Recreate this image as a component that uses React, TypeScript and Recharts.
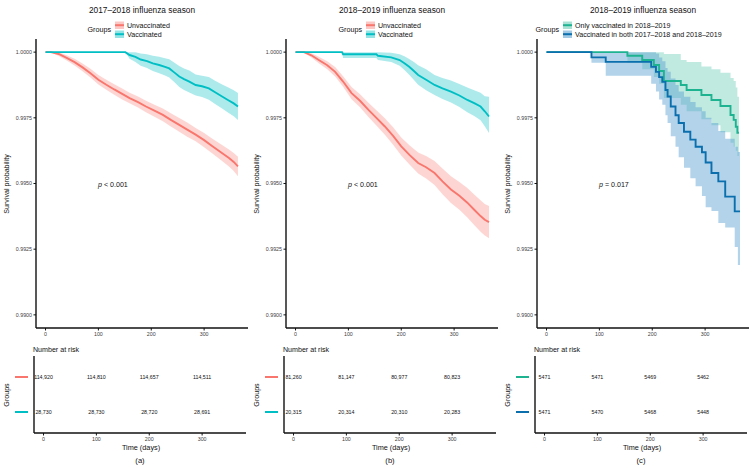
import type { ReactElement } from "react";
import { Area, ComposedChart, Line, Scatter, XAxis, YAxis } from "recharts";

const FONT = '"Liberation Sans", Arial, Helvetica, sans-serif';
const INK = "#111111";
const TICK_INK = "#404040";

const panelTitles = [
  "2017–2018 influenza season",
  "2018–2019 influenza season",
  "2018–2019 influenza season",
];
const panelLetters = ["(a)", "(b)", "(c)"];
const pTexts = ["< 0.001", "< 0.001", "= 0.017"];
const groupNames = [
  ["Unvaccinated", "Vaccinated"],
  ["Unvaccinated", "Vaccinated"],
  ["Only vaccinated in 2018–2019", "Vaccinated in both 2017–2018 and 2018–2019"],
];
const timeTicks = [0, 100, 200, 300];
const survTicks = [0.99, 0.9925, 0.995, 0.9975, 1];

// (a) 2017–2018, unvaccinated
const aUnvacT = [0, 10, 25, 40, 55, 70, 85, 100, 115, 130, 145, 159, 175, 190, 206, 222, 237, 253, 268, 284, 300, 315, 331, 347, 356, 364];
const aUnvacS = [1, 1, 0.99993, 0.99978, 0.99962, 0.99942, 0.9992, 0.99895, 0.99876, 0.99858, 0.99841, 0.99825, 0.9981, 0.99793, 0.99777, 0.99761, 0.99742, 0.99723, 0.99705, 0.99686, 0.99665, 0.99643, 0.9962, 0.99597, 0.99582, 0.99565];
const aUnvacHi = [1, 1, 1, 0.99988, 0.99975, 0.99957, 0.99937, 0.99913, 0.99895, 0.99878, 0.99862, 0.99845, 0.99831, 0.99815, 0.998, 0.99785, 0.99767, 0.99749, 0.99732, 0.99711, 0.99692, 0.99671, 0.9965, 0.99629, 0.99616, 0.99602];
const aUnvacLo = [1, 1, 0.99985, 0.99968, 0.99949, 0.99927, 0.99903, 0.99877, 0.99857, 0.99838, 0.9982, 0.99805, 0.99789, 0.99771, 0.99754, 0.99737, 0.99717, 0.99697, 0.99678, 0.99661, 0.99638, 0.99615, 0.9959, 0.99565, 0.99548, 0.99528];

// (a) 2017–2018, vaccinated
const aVacT = [0, 151, 159, 170, 180, 192, 203, 215, 226, 234, 244, 253, 262, 272, 284, 296, 309, 320, 334, 345, 356, 364];
const aVacS = [1, 1, 0.99989, 0.99982, 0.99972, 0.99966, 0.99957, 0.99951, 0.99944, 0.99938, 0.99922, 0.99907, 0.99897, 0.99888, 0.99875, 0.9987, 0.99862, 0.99848, 0.99831, 0.99818, 0.99805, 0.99793];
const aVacHi = [1, 1, 1, 1, 0.99995, 0.99992, 0.99986, 0.99982, 0.99977, 0.99973, 0.9996, 0.99947, 0.99938, 0.9993, 0.99915, 0.9991, 0.99905, 0.99892, 0.99877, 0.99866, 0.99855, 0.99844];
const aVacLo = [1, 1, 0.99975, 0.99962, 0.99948, 0.9994, 0.99928, 0.9992, 0.99911, 0.99903, 0.99885, 0.99867, 0.99856, 0.99846, 0.99835, 0.99829, 0.99819, 0.99804, 0.99785, 0.9977, 0.99756, 0.99742];

// (b) 2018–2019, unvaccinated
const bUnvacT = [0, 16, 30, 44, 60, 75, 90, 106, 122, 138, 153, 169, 185, 200, 216, 232, 247, 263, 278, 294, 310, 325, 338, 350, 358, 366];
const bUnvacS = [1, 1, 0.99988, 0.9997, 0.9995, 0.99925, 0.99888, 0.99844, 0.99815, 0.9978, 0.9975, 0.99717, 0.9968, 0.99641, 0.99608, 0.99578, 0.99562, 0.9954, 0.99508, 0.99477, 0.99453, 0.99427, 0.994, 0.99376, 0.99362, 0.99353];
const bUnvacHi = [1, 1, 0.99996, 0.99982, 0.99965, 0.99943, 0.99908, 0.99867, 0.9984, 0.99807, 0.99779, 0.99748, 0.99713, 0.99675, 0.99645, 0.99618, 0.99605, 0.99586, 0.99557, 0.99528, 0.99506, 0.99483, 0.99458, 0.99436, 0.99422, 0.99414];
const bUnvacLo = [1, 1, 0.9998, 0.99958, 0.99935, 0.99907, 0.99868, 0.99821, 0.9979, 0.99753, 0.99721, 0.99686, 0.99647, 0.99607, 0.99571, 0.99538, 0.99519, 0.99494, 0.99459, 0.99426, 0.994, 0.99371, 0.99342, 0.99316, 0.99302, 0.99292];

// (b) 2018–2019, vaccinated
const bVacT = [0, 88, 90, 153, 156, 181, 197, 206, 215, 224, 232, 247, 263, 278, 294, 310, 325, 338, 350, 358, 366];
const bVacS = [1, 1, 0.99992, 0.99992, 0.99986, 0.9998, 0.9997, 0.99958, 0.99944, 0.99928, 0.99913, 0.99895, 0.99875, 0.99862, 0.9985, 0.99835, 0.99818, 0.99806, 0.99793, 0.99775, 0.99755];
const bVacHi = [1, 1, 1, 1, 1, 0.99998, 0.99992, 0.99984, 0.99974, 0.99962, 0.9995, 0.99935, 0.99913, 0.99902, 0.99892, 0.99879, 0.99865, 0.99855, 0.99845, 0.99832, 0.9983];
const bVacLo = [1, 1, 0.99978, 0.99978, 0.9997, 0.99962, 0.99948, 0.99932, 0.99914, 0.99894, 0.99876, 0.99855, 0.99837, 0.99822, 0.99808, 0.99791, 0.99771, 0.99757, 0.99741, 0.99718, 0.99692];

// (c) only vaccinated in 2018–2019
const cOnlyT = [0, 153, 181, 203, 213, 222, 254, 265, 293, 312, 329, 348, 354, 358, 361, 364];
const cOnlyS = [1, 0.99986, 0.9997, 0.99951, 0.99928, 0.9989, 0.99875, 0.99856, 0.99837, 0.99818, 0.99795, 0.99761, 0.99742, 0.99716, 0.99693, 0.99693];
const cOnlyHi = [1, 1, 1, 1, 1, 0.99993, 0.9997, 0.99962, 0.99945, 0.99935, 0.99922, 0.99902, 0.9989, 0.99865, 0.9983, 0.9983];
const cOnlyLo = [1, 0.9996, 0.99935, 0.99905, 0.9988, 0.99825, 0.998, 0.99775, 0.99745, 0.99722, 0.99695, 0.99655, 0.9964, 0.99625, 0.99605, 0.99605];

// (c) vaccinated in both seasons
const cBothT = [0, 85, 112, 198, 207, 213, 219, 225, 229, 235, 244, 250, 260, 272, 282, 294, 301, 312, 325, 338, 356, 362, 366];
const cBothS = [1, 0.9998, 0.99963, 0.99944, 0.99925, 0.99905, 0.99887, 0.99856, 0.99831, 0.99793, 0.9976, 0.9973, 0.99697, 0.99667, 0.9964, 0.99619, 0.9958, 0.9954, 0.99508, 0.9945, 0.99394, 0.99394, 0.99394];
const cBothHi = [1, 1, 1, 1, 0.99995, 0.9998, 0.99965, 0.9994, 0.99925, 0.999, 0.99875, 0.9985, 0.9983, 0.9981, 0.9979, 0.99775, 0.9975, 0.9973, 0.997, 0.9967, 0.9964, 0.9962, 0.9962];
const cBothLo = [1, 0.9996, 0.9991, 0.9988, 0.9985, 0.9982, 0.998, 0.9976, 0.9973, 0.9968, 0.9964, 0.996, 0.9956, 0.9952, 0.9949, 0.99452, 0.9941, 0.99395, 0.9935, 0.99333, 0.99258, 0.9919, 0.9919];

// number at risk
const riskTimes = [0, 100, 200, 300];
const aRiskUnvac = ["114,920", "114,810", "114,657", "114,511"];
const aRiskVac = ["28,730", "28,730", "28,720", "28,691"];
const bRiskUnvac = ["81,260", "81,147", "80,977", "80,823"];
const bRiskVac = ["20,315", "20,314", "20,310", "20,283"];
const cRiskOnly = ["5471", "5471", "5469", "5462"];
const cRiskBoth = ["5471", "5470", "5468", "5448"];

type Row = { t: number; s: number; band: [number, number] };
type Series = {
  rows: Row[];
  color: string;
  band: string;
  bandOpacity: number;
  curve: "linear" | "stepAfter";
};

function toRows(t: number[], s: number[], lo: number[], hi: number[]): Row[] {
  return t.map((time, i) => ({ t: time, s: s[i], band: [lo[i], hi[i]] }));
}

const RED = "#F8766D";
const TEAL = "#00BFC4";
const GREEN = "#1DB391";
const BLUE = "#0B6FAE";

const panels: { left: number; series: Series[]; risk: string[][]; legendX: number }[] = [
  {
    left: 0,
    legendX: 115,
    series: [
      { rows: toRows(aUnvacT, aUnvacS, aUnvacLo, aUnvacHi), color: RED, band: RED, bandOpacity: 0.3, curve: "linear" },
      { rows: toRows(aVacT, aVacS, aVacLo, aVacHi), color: TEAL, band: TEAL, bandOpacity: 0.32, curve: "linear" },
    ],
    risk: [aRiskUnvac, aRiskVac],
  },
  {
    left: 250,
    legendX: 116,
    series: [
      { rows: toRows(bUnvacT, bUnvacS, bUnvacLo, bUnvacHi), color: RED, band: RED, bandOpacity: 0.3, curve: "linear" },
      { rows: toRows(bVacT, bVacS, bVacLo, bVacHi), color: TEAL, band: TEAL, bandOpacity: 0.32, curve: "linear" },
    ],
    risk: [bRiskUnvac, bRiskVac],
  },
  {
    left: 501,
    legendX: 62,
    series: [
      { rows: toRows(cOnlyT, cOnlyS, cOnlyLo, cOnlyHi), color: GREEN, band: GREEN, bandOpacity: 0.28, curve: "stepAfter" },
      { rows: toRows(cBothT, cBothS, cBothLo, cBothHi), color: BLUE, band: "#5EA4D0", bandOpacity: 0.48, curve: "stepAfter" },
    ],
    risk: [cRiskOnly, cRiskBoth],
  },
];

const tickStyle = { fill: TICK_INK, fontSize: 5.3, fontFamily: FONT };
const axisLine = { stroke: INK, strokeWidth: 1.4 };

function RiskLabel(props: any): ReactElement {
  const { cx, cy, payload } = props;
  return (
    <text x={cx} y={cy} dy="0.35em" textAnchor="middle" fontSize={5.3} fontFamily={FONT} fill={INK}>
      {payload.n}
    </text>
  );
}

function KmPanel({ index }: { index: number }) {
  const panel = panels[index];
  const colors = panel.series.map((s) => s.color);
  const riskRows = panel.risk.flatMap((counts, g) =>
    counts.map((n, i) => ({ t: riskTimes[i], row: 2 - g, n })),
  );

  return (
    <div style={{ position: "absolute", left: panel.left, top: 0, width: 252, height: 468 }}>
      <div style={{ position: "absolute", left: 0, top: 0 }}>
        <ComposedChart width={252} height={345} margin={{ top: 39, right: 4, bottom: 0, left: 0 }}>
          <XAxis
            type="number"
            dataKey="t"
            domain={[-18, 383]}
            ticks={timeTicks}
            allowDataOverflow
            height={17}
            tickSize={2.5}
            tickMargin={1.5}
            tick={tickStyle}
            tickLine={{ stroke: INK }}
            axisLine={axisLine}
          />
          <YAxis
            type="number"
            domain={[0.9895, 1.0005]}
            ticks={survTicks}
            allowDataOverflow
            width={36}
            tickSize={2.5}
            tickMargin={1.5}
            tick={tickStyle}
            tickLine={{ stroke: INK }}
            axisLine={axisLine}
            tickFormatter={(v: number) => v.toFixed(4)}
          />
          {panel.series.map((s, i) => (
            <Area
              key={`band-${i}`}
              data={s.rows}
              dataKey="band"
              type={s.curve}
              fill={s.band}
              fillOpacity={s.bandOpacity}
              stroke="none"
              isAnimationActive={false}
            />
          ))}
          {panel.series.map((s, i) => (
            <Line
              key={`line-${i}`}
              data={s.rows}
              dataKey="s"
              type={s.curve}
              stroke={s.color}
              strokeWidth={1.9}
              dot={false}
              isAnimationActive={false}
            />
          ))}
        </ComposedChart>
      </div>

      <div style={{ position: "absolute", left: 0, top: 340 }}>
        <ComposedChart width={252} height={110} margin={{ top: 16, right: 6, bottom: 0, left: 0 }}>
          <XAxis
            type="number"
            dataKey="t"
            domain={[-18, 383]}
            ticks={timeTicks}
            allowDataOverflow
            height={17}
            tickSize={2.5}
            tickMargin={1.5}
            tick={tickStyle}
            tickLine={{ stroke: INK }}
            axisLine={axisLine}
          />
          <YAxis
            type="number"
            dataKey="row"
            domain={[0.4, 2.6]}
            ticks={[1, 2]}
            width={34}
            tickSize={0}
            tickMargin={0}
            tickLine={false}
            axisLine={axisLine}
            tick={(p: any) => (
              <line
                x1={p.x - 19}
                x2={p.x - 6}
                y1={p.y}
                y2={p.y}
                stroke={p.payload.value === 2 ? colors[0] : colors[1]}
                strokeWidth={2}
              />
            )}
          />
          <Scatter data={riskRows} dataKey="row" shape={RiskLabel} isAnimationActive={false} />
        </ComposedChart>
      </div>

      <svg
        width={252}
        height={468}
        style={{ position: "absolute", left: 0, top: 0, pointerEvents: "none" }}
        fontFamily={FONT}
      >
        <text x={142} y={13} textAnchor="middle" fontSize={8.3} fill={INK}>
          {panelTitles[index]}
        </text>
        <text x={panel.legendX - 4} y={31.5} textAnchor="end" fontSize={7.2} fill={INK}>
          Groups
        </text>
        {panel.series.map((s, i) => (
          <g key={`key-${i}`}>
            <rect
              x={panel.legendX}
              y={21.5 + i * 9}
              width={9}
              height={7.5}
              fill={s.band}
              fillOpacity={s.bandOpacity + 0.1}
            />
            <line
              x1={panel.legendX}
              x2={panel.legendX + 9}
              y1={25.2 + i * 9}
              y2={25.2 + i * 9}
              stroke={s.color}
              strokeWidth={2}
            />
            <text x={panel.legendX + 12} y={27.8 + i * 9} fontSize={7.1} fill={INK}>
              {groupNames[index][i]}
            </text>
          </g>
        ))}
        <text
          x={9}
          y={184}
          textAnchor="middle"
          fontSize={7.1}
          fill={INK}
          transform="rotate(-90 9 184)"
        >
          Survival probability
        </text>
        <text x={98} y={186.5} fontSize={7.1} fill={INK}>
          <tspan fontStyle="italic">p</tspan> {pTexts[index]}
        </text>
        <text x={33} y={351.5} fontSize={7.1} fill={INK}>
          Number at risk
        </text>
        <text x={9} y={395} textAnchor="middle" fontSize={7.1} fill={INK} transform="rotate(-90 9 395)">
          Groups
        </text>
        <text x={141} y={449.5} textAnchor="middle" fontSize={7.3} fill={INK}>
          Time (days)
        </text>
        <text x={140} y={463} textAnchor="middle" fontSize={7.6} fill={INK}>
          {panelLetters[index]}
        </text>
      </svg>
    </div>
  );
}

export default function App() {
  return (
    <div
      style={{
        position: "absolute",
        left: 0,
        top: 0,
        width: 756,
        height: 468,
        background: "#ffffff",
        overflow: "hidden",
      }}
    >
      {panels.map((_, i) => (
        <KmPanel key={i} index={i} />
      ))}
    </div>
  );
}
